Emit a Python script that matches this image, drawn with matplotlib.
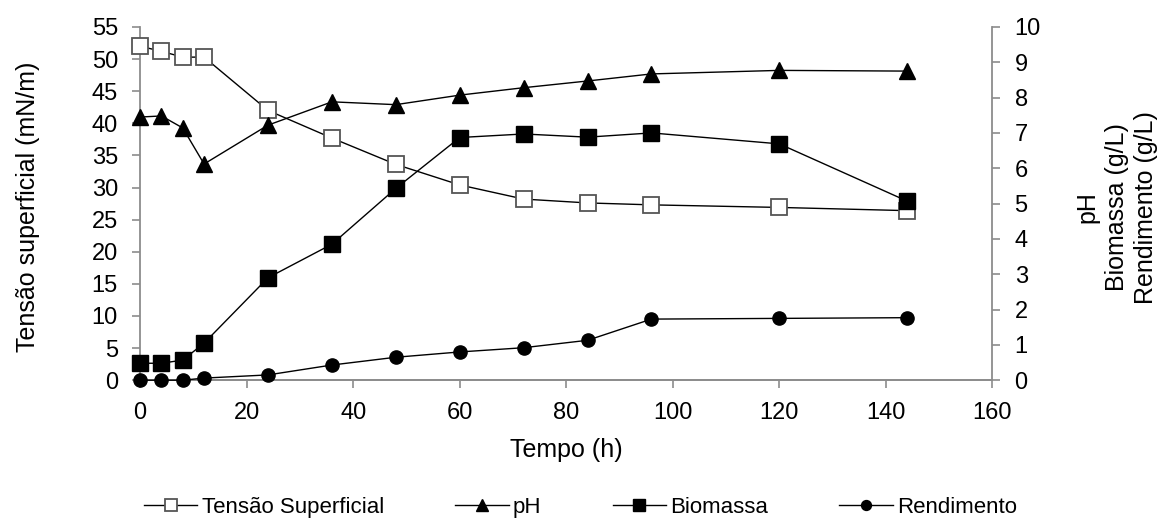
import matplotlib
matplotlib.use('Agg')
import matplotlib.pyplot as plt

plt.rcParams['font.family'] = ['Liberation Sans', 'DejaVu Sans']

# Tempo de cultivo (h)
tempo = [0, 4, 8, 12, 24, 36, 48, 60, 72, 84, 96, 120, 144]

# Tensão superficial (mN/m) - eixo esquerdo
tensao = [52.0, 51.2, 50.3, 50.3, 42.0, 37.7, 33.6, 30.4, 28.2, 27.6, 27.3, 26.9, 26.4]

# pH, biomassa (g/L) e rendimento (g/L) - eixo direito
ph = [7.45, 7.48, 7.14, 6.12, 7.22, 7.88, 7.80, 8.07, 8.28, 8.47, 8.67, 8.77, 8.75]
biomassa = [0.48, 0.48, 0.57, 1.05, 2.90, 3.85, 5.43, 6.87, 6.97, 6.88, 7.00, 6.69, 5.07]
rendimento = [0.0, 0.0, 0.0, 0.06, 0.15, 0.43, 0.65, 0.80, 0.92, 1.13, 1.73, 1.75, 1.77]

cinza = '#8c8c8c'
fs_tick = 17
fs_label = 18

fig = plt.figure(figsize=(11.73, 5.18), dpi=100)
ax = fig.add_axes([0.1195, 0.266, 0.7265, 0.682])
ax2 = ax.twinx()

# Tensão superficial no eixo principal
l1, = ax.plot(tempo, tensao, color='black', lw=1.0, marker='s', markersize=11,
              markerfacecolor='white', markeredgecolor='#555555', markeredgewidth=1.3,
              label='Tensão Superficial', zorder=3, clip_on=False)

# Demais variáveis no eixo secundário
l2, = ax2.plot(tempo, ph, color='black', lw=1.0, marker='^', markersize=11,
               label='pH', zorder=3, clip_on=False)
l3, = ax2.plot(tempo, biomassa, color='black', lw=1.0, marker='s', markersize=11,
               label='Biomassa', zorder=3, clip_on=False)
l4, = ax2.plot(tempo, rendimento, color='black', lw=1.0, marker='o', markersize=9.5,
               label='Rendimento', zorder=3, clip_on=False)

ax.set_xlim(0, 160)
ax.set_ylim(0, 55)
ax2.set_ylim(0, 10)
ax.set_xticks(range(0, 161, 20))
ax.set_yticks(range(0, 56, 5))
ax2.set_yticks(range(0, 11, 1))

ax.set_xlabel('Tempo (h)', fontsize=18, labelpad=10)
ax.set_ylabel('Tensão superficial (mN/m)', fontsize=fs_label)
ax2.set_ylabel('pH\nBiomassa (g/L)\nRendimento (g/L)', fontsize=fs_label,
               linespacing=1.3, multialignment='center')
ax.yaxis.set_label_coords(-0.118, 0.49)
ax2.yaxis.set_label_coords(1.097, 0.49)

for a in (ax, ax2):
    a.spines['top'].set_visible(False)
    for s in ('left', 'right', 'bottom'):
        a.spines[s].set_color(cinza)
        a.spines[s].set_linewidth(1.3)
    a.tick_params(axis='both', colors=cinza, labelcolor='black', labelsize=fs_tick,
                  length=6, width=1.2, direction='out', pad=10)
ax2.spines['left'].set_visible(False)
ax.spines['right'].set_visible(False)

# Legenda na parte inferior
fig.legend(handles=[l1, l2, l3, l4], loc='center', bbox_to_anchor=(0.495, 0.021),
           ncol=4, frameon=False, fontsize=16, handlelength=2.4, handletextpad=0.2,
           columnspacing=3.2, markerscale=0.75)

plt.savefig('out.png', dpi=100)
